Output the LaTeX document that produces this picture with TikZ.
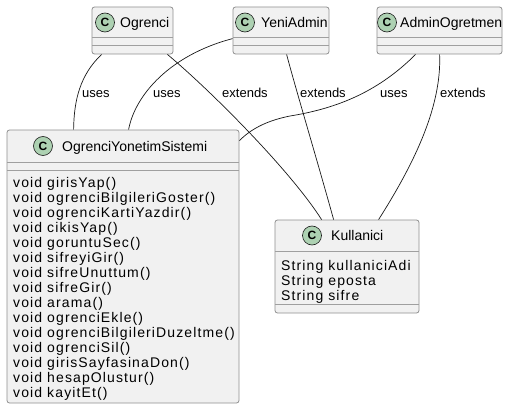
\documentclass[tikz,border=0pt]{standalone}
\usepackage{fontspec}
\setmainfont{Liberation Sans}
\newfontfamily\memberfont[LetterSpace=8]{Liberation Sans}
\usepackage{tikz}
\usetikzlibrary{calc,positioning}
\definecolor{classfill}{HTML}{F1F1F1}
\definecolor{classline}{HTML}{8E8E8E}
\definecolor{markfill}{HTML}{ADD1B2}
\definecolor{relline}{HTML}{181818}
\tikzset{
  classbox/.style={draw=classline, fill=classfill, rounded corners=2.5pt, line width=0.8pt, inner sep=0pt},
  classsep/.style={draw=classline!85, line width=1pt},
  classmark/.style={circle, draw=relline, fill=markfill, line width=0.6pt, minimum size=19pt, inner sep=0pt, font=\bfseries\fontsize{12}{12}\selectfont},
  classname/.style={anchor=base west, inner sep=0pt, font=\fontsize{14}{16}\selectfont},
  member/.style={anchor=base west, inner sep=0pt, font=\memberfont\fontsize{14}{15}\selectfont},
  relation/.style={draw=relline, line width=0.7pt},
  rellabel/.style={anchor=base west, inner sep=0pt, font=\fontsize{13}{15}\selectfont}
}

\begin{document}
\begin{tikzpicture}[x=1pt, y=-1pt]
            \useasboundingbox (0,0) rectangle (508,409);
            % top row classes
            \node[classbox, minimum width=81pt, minimum height=47pt] (ogrenci) at (132.5,30.5) {};
            \node[classbox, minimum width=96pt, minimum height=47pt] (yeniadmin) at (281,30.5) {};
            \node[classbox, minimum width=125pt, minimum height=47pt] (adminogretmen) at (439.5,30.5) {};
            % lower classes
            \node[classbox, minimum width=232pt, minimum height=273pt] (sistem) at (123,266.5) {};
            \node[classbox, minimum width=144pt, minimum height=93pt] (kullanici) at (347,266.5) {};
            % compartment lines
            \foreach \cls/\y in {ogrenci/38, ogrenci/46, yeniadmin/38, yeniadmin/46,
                                 adminogretmen/38, adminogretmen/46, sistem/162, sistem/170,
                                 kullanici/251, kullanici/304}
              \draw[classsep] ($(\cls.west |- 0,\y)+(0.4,0)$) -- ($(\cls.east |- 0,\y)+(-0.4,0)$);
            % headers
            \node[classmark] (ogrenci-c) at (105,22.5) {C};
            \node[classname] (ogrenci-n) at (120,27.5) {Ogrenci};
            \node[classmark] (yeniadmin-c) at (245,22.5) {C};
            \node[classname] (yeniadmin-n) at (261,27.5) {YeniAdmin};
            \node[classmark] (adminogretmen-c) at (387,22.5) {C};
            \node[classname] (adminogretmen-n) at (400,27.5) {AdminOgretmen};
            \node[classmark] (sistem-c) at (43,146) {C};
            \node[classname] (sistem-n) at (62,151) {OgrenciYonetimSistemi};
            \node[classmark] (kullanici-c) at (312,235.5) {C};
            \node[classname] (kullanici-n) at (331,240.5) {Kullanici};
            % members
            \foreach \m [count=\i] in {girisYap, ogrenciBilgileriGoster, ogrenciKartiYazdir, cikisYap,
                                       goruntuSec, sifreyiGir, sifreUnuttum, sifreGir, arama, ogrenciEkle,
                                       ogrenciBilgileriDuzeltme, ogrenciSil, girisSayfasinaDon,
                                       hesapOlustur, kayitEt}
              \node[member] (sistem-m\i) at (13,172+15*\i) {void \m()};
            \foreach \a [count=\i] in {kullaniciAdi, eposta, sifre}
              \node[member] (kullanici-a\i) at (281,255+15*\i) {String \a};
            % uses
            \draw[relation] ($(ogrenci.south west)+(10,0)$) .. controls (80,75) and (74,100) .. ($(sistem.north west)+(67,0)$);
            \draw[relation] ($(yeniadmin.north west)+(0,32)$) .. controls (170,55) and (135,95) .. ($(sistem.north west)+(122,0)$);
            \draw[relation] ($(adminogretmen.south west)+(39,0)$) .. controls (380,90) and (340,108) .. (290,116)
                  .. controls (265,121) and (250,130) .. ($(sistem.north east)+(0,11)$);
            % extends
            \draw[relation] ($(ogrenci.south east)+(-6,0)$) .. controls (210,90) and (290,170) .. ($(kullanici.north west)+(47,0)$);
            \draw[relation] ($(yeniadmin.south west)+(54,0)$) .. controls (296,90) and (320,170) .. ($(kullanici.north west)+(59,0)$);
            \draw[relation] ($(adminogretmen.south west)+(63,0)$) .. controls (442,110) and (410,170) .. ($(kullanici.north west)+(104,0)$);
            % labels
            \node[rellabel] (uses-ogrenci) at (82,98) {uses};
            \node[rellabel] (uses-yeniadmin) at (153,98) {uses};
            \node[rellabel] (extends-ogrenci) at (222,98) {extends};
            \node[rellabel] (extends-yeniadmin) at (300,98) {extends};
            \node[rellabel] (uses-adminogretmen) at (380,98) {uses};
            \node[rellabel] (extends-adminogretmen) at (440,98) {extends};
          \end{tikzpicture}
\end{document}
